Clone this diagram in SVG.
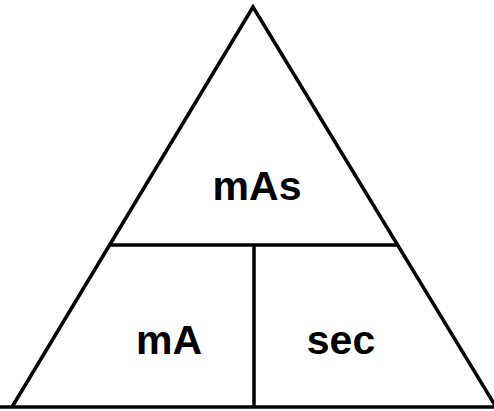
<svg xmlns="http://www.w3.org/2000/svg" width="494" height="411" viewBox="0 0 494 411">
<style>
.ln{stroke:#000;stroke-width:3.5;fill:none;stroke-linejoin:miter}
.lb{font-family:"Liberation Sans",Arial,sans-serif;font-weight:bold;font-size:41px;fill:#000;text-anchor:middle}
</style>
<rect width="494" height="411" fill="#fff"/>
<g id="connectors">
<polyline class="ln" points="12,407 253,7 496,407"/>
<line class="ln" x1="0" y1="407" x2="494" y2="407"/>
<line class="ln" x1="109" y1="245" x2="397" y2="245"/>
<line class="ln" x1="254" y1="245" x2="254" y2="407"/>
</g>
<g id="node-mAs"><text class="lb" x="257" y="200">mAs</text></g>
<g id="node-mA"><text class="lb" x="169" y="354">mA</text></g>
<g id="node-sec"><text class="lb" x="341" y="354">sec</text></g>
</svg>
